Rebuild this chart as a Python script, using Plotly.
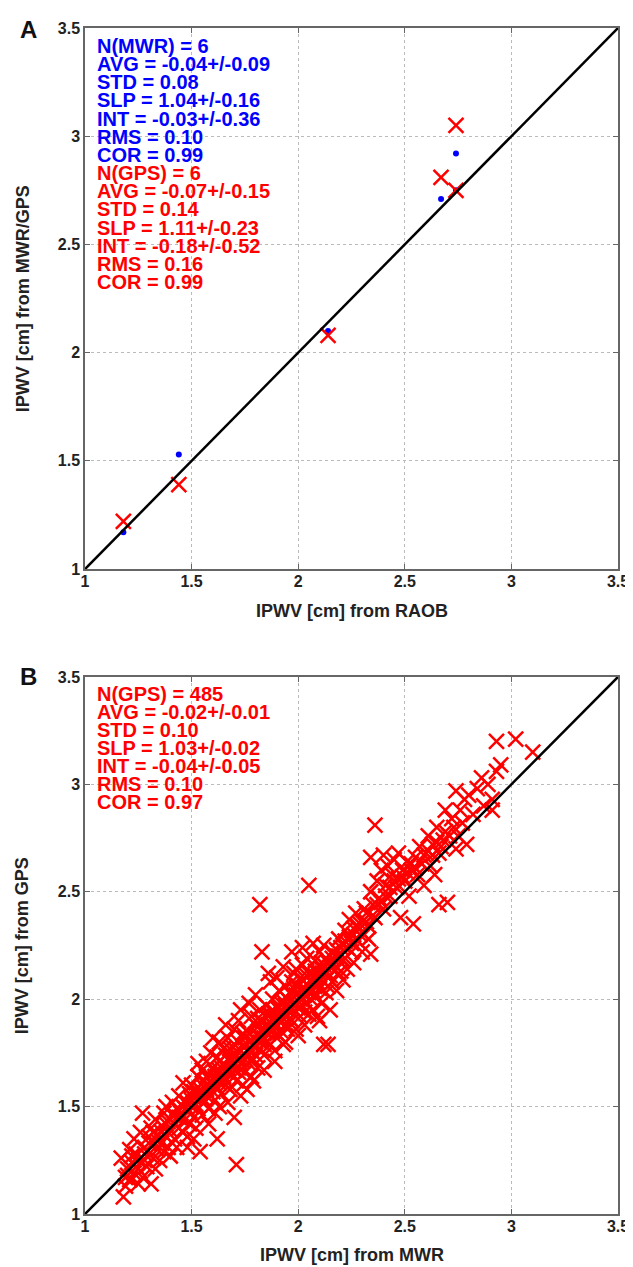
import plotly.graph_objects as go

# ---------------- Panel A data ----------------
raob_a = [1.18, 1.44, 2.14, 2.67, 2.74, 2.74]
mwr_a = [1.17, 1.53, 2.10, 2.71, 2.92, 2.75]
gps_a = [1.22, 1.39, 2.08, 2.81, 3.05, 2.75]

# ---------------- Panel B data ----------------
mwr_b = [
    1.18, 1.19, 1.19, 1.17, 1.20, 1.21, 1.22, 1.23, 1.24, 1.21, 1.25, 1.24, 1.20, 1.23,
    1.26, 1.27, 1.27, 1.28, 1.28, 1.29, 1.30, 1.30, 1.31, 1.31, 1.32, 1.32, 1.33, 1.33, 1.34, 1.34, 1.35, 1.26,
    1.36, 1.36, 1.37, 1.37, 1.38, 1.38, 1.39, 1.39, 1.40, 1.40, 1.41, 1.41, 1.42, 1.42, 1.43, 1.43, 1.44, 1.44, 1.45, 1.46,
    1.46, 1.47, 1.47, 1.48, 1.48, 1.49, 1.49, 1.50, 1.50, 1.51, 1.51, 1.52, 1.52, 1.53, 1.53, 1.54, 1.54, 1.55, 1.55, 1.55, 1.48, 1.51, 1.53, 1.50,
    1.56, 1.56, 1.57, 1.57, 1.58, 1.58, 1.59, 1.59, 1.60, 1.60, 1.61, 1.61, 1.62, 1.62, 1.62, 1.63, 1.63, 1.64, 1.64, 1.65, 1.65, 1.58, 1.61, 1.63, 1.60, 1.57,
    1.66, 1.66, 1.67, 1.67, 1.68, 1.68, 1.69, 1.69, 1.70, 1.70, 1.71, 1.71, 1.71, 1.72, 1.72, 1.73, 1.73, 1.74, 1.74, 1.75, 1.75, 1.67, 1.70, 1.72, 1.74, 1.68, 1.66, 1.73,
    1.76, 1.76, 1.77, 1.77, 1.78, 1.78, 1.78, 1.79, 1.79, 1.80, 1.80, 1.81, 1.81, 1.82, 1.82, 1.82, 1.83, 1.83, 1.84, 1.84, 1.85, 1.85, 1.76, 1.79, 1.83, 1.80, 1.84, 1.77, 1.81, 1.85,
    1.86, 1.86, 1.87, 1.87, 1.88, 1.88, 1.89, 1.89, 1.90, 1.90, 1.91, 1.91, 1.92, 1.92, 1.93, 1.93, 1.94, 1.94, 1.95, 1.95, 1.87, 1.89, 1.92, 1.94, 1.86, 1.90, 1.93, 1.88, 1.91, 1.95,
    1.96, 1.96, 1.97, 1.97, 1.98, 1.98, 1.99, 1.99, 2.00, 2.00, 2.01, 2.01, 2.02, 2.02, 2.03, 2.03, 2.04, 2.04, 2.05, 2.05, 1.97, 2.00, 2.03, 1.98, 2.02, 2.05, 1.96, 2.01, 2.04, 1.99,
    2.06, 2.06, 2.07, 2.07, 2.08, 2.08, 2.09, 2.09, 2.10, 2.10, 2.11, 2.11, 2.12, 2.12, 2.13, 2.13, 2.14, 2.14, 2.15, 2.15, 2.07, 2.10, 2.12, 2.08,
    2.16, 2.16, 2.17, 2.18, 2.18, 2.19, 2.19, 2.20, 2.21, 2.21, 2.22, 2.22, 2.23, 2.24, 2.24, 2.25, 2.26, 2.26, 2.27, 2.28, 2.29, 2.30,
    2.31, 2.31, 2.32, 2.33, 2.34, 2.34, 2.34, 2.35, 2.36, 2.36, 2.37, 2.38, 2.39, 2.40, 2.40, 2.41, 2.42, 2.43, 2.44, 2.45, 2.46, 2.47, 2.48, 2.49,
    2.50, 2.51, 2.52, 2.53, 2.54, 2.55, 2.56, 2.57, 2.58, 2.59, 2.60, 2.61, 2.62, 2.63, 2.64, 2.65, 2.66, 2.66, 2.68, 2.70, 2.72, 2.74,
    2.75, 2.76, 2.77, 2.78, 2.79, 2.80, 2.82, 2.84, 2.86, 2.87, 2.89, 2.91, 2.91, 2.93, 2.95, 2.93, 3.02, 3.10, 2.74, 2.69,
]
gps_b = [
    1.08, 1.13, 1.17, 1.26, 1.21, 1.16, 1.24, 1.19, 1.28, 1.30, 1.14, 1.22, 1.18, 1.35,
    1.20, 1.17, 1.47, 1.25, 1.31, 1.22, 1.28, 1.36, 1.14, 1.40, 1.26, 1.33, 1.21, 1.44, 1.30, 1.37, 1.25, 1.38,
    1.33, 1.41, 1.29, 1.47, 1.36, 1.50, 1.31, 1.43, 1.27, 1.39, 1.46, 1.52, 1.35, 1.42, 1.31, 1.49, 1.40, 1.55, 1.45, 1.61,
    1.38, 1.44, 1.52, 1.36, 1.48, 1.56, 1.42, 1.50, 1.60, 1.45, 1.54, 1.40, 1.58, 1.49, 1.64, 1.29, 1.53, 1.46, 1.57, 1.67, 1.31, 1.35, 1.70, 1.55,
    1.52, 1.62, 1.58, 1.71, 1.49, 1.65, 1.55, 1.75, 1.60, 1.68, 1.53, 1.64, 1.35, 1.59, 1.73, 1.67, 1.80, 1.56, 1.62, 1.70, 1.77, 1.42, 1.47, 1.50, 1.82, 1.64,
    1.62, 1.74, 1.68, 1.82, 1.58, 1.71, 1.65, 1.78, 1.70, 1.86, 1.23, 1.62, 1.74, 1.68, 1.80, 1.55, 1.76, 1.71, 1.84, 1.66, 1.78, 1.52, 1.45, 1.90, 1.60, 1.77, 1.88, 1.95,
    1.73, 1.85, 1.70, 1.80, 1.64, 1.76, 1.92, 1.82, 1.72, 1.78, 1.88, 1.68, 1.84, 2.44, 1.77, 1.95, 1.81, 1.90, 1.74, 1.86, 1.80, 1.97, 1.58, 1.62, 2.22, 2.02, 1.67, 1.98, 1.91, 1.87,
    1.84, 1.93, 1.79, 1.89, 1.85, 2.00, 1.76, 1.92, 1.88, 1.96, 1.83, 2.04, 1.90, 1.98, 1.79, 1.94, 1.88, 2.06, 1.92, 2.00, 2.08, 1.71, 1.85, 1.80, 2.12, 2.10, 2.15, 1.95, 1.96, 1.86,
    1.95, 2.03, 1.90, 2.08, 1.98, 2.12, 1.86, 2.02, 1.96, 2.06, 1.92, 2.10, 2.00, 2.16, 1.88, 2.05, 1.98, 2.11, 2.53, 2.03, 2.22, 1.83, 1.94, 2.05, 2.24, 1.93, 1.99, 2.01, 2.19, 2.14,
    2.00, 2.12, 1.95, 2.07, 2.02, 2.18, 1.92, 2.10, 2.05, 2.22, 1.98, 2.14, 2.08, 1.79, 2.03, 2.19, 1.79, 2.10, 1.95, 2.15, 2.26, 1.90, 2.25, 2.11,
    2.08, 2.22, 2.13, 2.04, 2.20, 2.28, 2.12, 2.17, 2.25, 2.09, 2.32, 2.19, 2.14, 2.28, 2.37, 2.22, 2.33, 2.17, 2.40, 2.27, 2.35, 2.22,
    2.30, 2.42, 2.36, 2.28, 2.50, 2.66, 2.21, 2.44, 2.81, 2.38, 2.55, 2.47, 2.60, 2.67, 2.42, 2.53, 2.62, 2.48, 2.58, 2.65, 2.52, 2.68, 2.38, 2.60,
    2.55, 2.64, 2.48, 2.60, 2.35, 2.66, 2.58, 2.71, 2.63, 2.53, 2.68, 2.76, 2.62, 2.72, 2.58, 2.80, 2.68, 2.44, 2.74, 2.45, 2.84, 2.70,
    2.76, 2.88, 2.82, 2.93, 2.72, 2.95, 2.86, 2.98, 3.03, 2.90, 3.00, 2.88, 2.93, 3.20, 3.09, 3.06, 3.21, 3.15, 2.97, 2.88,
]
# dense core of the cloud (points lying close to the 1:1 line)
mwr_b_core = [
    1.45, 1.47, 1.49, 1.50, 1.52, 1.53, 1.54, 1.55, 1.56, 1.57, 1.58, 1.59, 1.60, 1.61, 1.62, 1.63, 1.64, 1.65,
    1.66, 1.67, 1.68, 1.69, 1.70, 1.71, 1.72, 1.73, 1.74, 1.75, 1.76, 1.77, 1.78, 1.79, 1.80, 1.81, 1.82, 1.83,
    1.84, 1.85, 1.86, 1.87, 1.88, 1.89, 1.90, 1.91, 1.92, 1.93, 1.94, 1.95, 1.96, 1.97, 1.98, 1.99, 2.00, 2.01,
    2.02, 2.03, 2.04, 2.05, 2.06, 2.07, 2.08, 2.09, 2.10, 2.11, 2.12, 2.13, 2.14, 2.15, 2.16, 2.17, 2.18, 2.19,
    2.20, 2.21, 2.22, 2.23, 2.24, 2.25, 2.26, 2.27, 2.28, 2.29, 2.30, 2.32, 2.33, 2.35, 2.37, 2.39, 2.41, 2.43,
    2.45, 2.47, 2.49, 2.51, 2.53, 2.55, 2.57, 2.59, 2.61, 2.63, 2.65, 2.67, 2.69, 2.71, 2.73,
    1.30, 1.32, 1.34, 1.36, 1.38, 1.40, 1.42, 1.44, 1.25, 1.28, 1.22, 1.46, 1.48, 1.51,
    1.63, 1.69, 1.75, 1.81, 1.87, 1.93, 1.99, 2.05, 2.11, 1.66, 1.72, 1.78, 1.84, 1.90, 1.96, 2.02, 2.08, 2.14, 2.20,
]
gps_b_core = [
    1.47, 1.49, 1.48, 1.53, 1.51, 1.56, 1.58, 1.54, 1.59, 1.55, 1.60, 1.62, 1.57, 1.66, 1.63, 1.61, 1.68, 1.64,
    1.69, 1.66, 1.73, 1.70, 1.67, 1.76, 1.72, 1.70, 1.78, 1.74, 1.79, 1.76, 1.81, 1.78, 1.74, 1.83, 1.80, 1.86,
    1.82, 1.85, 1.88, 1.86, 1.90, 1.87, 1.92, 1.90, 1.94, 1.91, 1.97, 1.95, 1.99, 1.96, 2.01, 1.98, 2.03, 2.00,
    2.05, 2.02, 2.07, 2.06, 2.09, 2.04, 2.13, 2.08, 2.12, 2.09, 2.16, 2.12, 2.17, 2.11, 2.19, 2.16, 2.23, 2.20,
    2.24, 2.18, 2.27, 2.24, 2.29, 2.26, 2.30, 2.28, 2.34, 2.30, 2.36, 2.40, 2.34, 2.39, 2.44, 2.45, 2.48, 2.52,
    2.55, 2.56, 2.57, 2.59, 2.63, 2.61, 2.64, 2.67, 2.69, 2.67, 2.73, 2.71, 2.78, 2.76, 2.80,
    1.33, 1.38, 1.34, 1.38, 1.42, 1.44, 1.46, 1.45, 1.25, 1.28, 1.27, 1.50, 1.52, 1.57,
    1.71, 1.74, 1.82, 1.87, 1.93, 1.99, 2.07, 2.12, 2.17, 1.60, 1.66, 1.72, 1.79, 1.84, 1.91, 1.97, 2.01, 2.06, 2.13,
]

one_to_one = [1.0, 3.5]
tick_vals = [1, 1.5, 2, 2.5, 3, 3.5]
tick_text = ["1", "1.5", "2", "2.5", "3", "3.5"]

stats_a_mwr = ["N(MWR) = 6", "AVG = -0.04+/-0.09", "STD = 0.08", "SLP = 1.04+/-0.16",
               "INT = -0.03+/-0.36", "RMS = 0.10", "COR = 0.99"]
stats_a_gps = ["N(GPS) = 6", "AVG = -0.07+/-0.15", "STD = 0.14", "SLP = 1.11+/-0.23",
               "INT = -0.18+/-0.52", "RMS = 0.16", "COR = 0.99"]
stats_b_gps = ["N(GPS) = 485", "AVG = -0.02+/-0.01", "STD = 0.10", "SLP = 1.03+/-0.02",
               "INT = -0.04+/-0.05", "RMS = 0.10", "COR = 0.97"]

# ---------------- Figure ----------------
W, H = 633, 1267
ML, MR, MT, MB = 77, 16, 18, 61
PW = W - ML - MR
PH = H - MT - MB


def px(xp):
    return (xp - ML) / PW


def py(yp):
    return (H - MB - yp) / PH


FONT = "Liberation Sans, Arial, sans-serif"
RED = "#ff0000"
BLUE = "#0000ff"
XMARK = dict(symbol="x-thin", size=15, color=RED, line=dict(color=RED, width=2.5))

fig = go.Figure()

# Panel A
fig.add_trace(go.Scatter(x=raob_a, y=mwr_a, mode="markers", xaxis="x", yaxis="y",
                         marker=dict(symbol="circle", size=6, color=BLUE), showlegend=False))
fig.add_trace(go.Scatter(x=raob_a, y=gps_a, mode="markers", xaxis="x", yaxis="y",
                         marker=XMARK, showlegend=False))
fig.add_trace(go.Scatter(x=one_to_one, y=one_to_one, mode="lines", xaxis="x", yaxis="y",
                         line=dict(color="black", width=2.5), showlegend=False))

# Panel B
fig.add_trace(go.Scatter(x=mwr_b + mwr_b_core, y=gps_b + gps_b_core, mode="markers",
                         xaxis="x2", yaxis="y2", marker=XMARK, showlegend=False))
fig.add_trace(go.Scatter(x=one_to_one, y=one_to_one, mode="lines", xaxis="x2", yaxis="y2",
                         line=dict(color="black", width=2.5), showlegend=False))

axis_common = dict(
    range=[1, 3.5], tickvals=tick_vals, ticktext=tick_text,
    showline=True, linecolor="#666666", linewidth=1.5, mirror="ticks",
    ticks="inside", ticklen=5, tickcolor="#666666",
    showgrid=True, gridcolor="#bbbbbb", griddash="dot", gridwidth=1,
    zeroline=False, tickfont=dict(family=FONT, size=16, color="#222222", weight="bold"),
    fixedrange=True,
)

a_top, a_bot = py(18), py(560)
b_top, b_bot = py(668), py(1206)

fig.update_layout(
    width=W, height=H,
    margin=dict(l=ML, r=MR, t=MT, b=MB),
    paper_bgcolor="white", plot_bgcolor="white",
    xaxis=dict(domain=[0, 1], anchor="y", ticklabelstandoff=-3, **axis_common),
    yaxis=dict(domain=[a_bot, a_top], anchor="x", **axis_common),
    xaxis2=dict(domain=[0, 1], anchor="y2", ticklabelstandoff=-3, **axis_common),
    yaxis2=dict(domain=[b_bot, b_top], anchor="x2", **axis_common),
)

ann = []
STAT_SIZE = 20
lines_a = [(t, BLUE) for t in stats_a_mwr] + [(t, RED) for t in stats_a_gps]
for i, (t, c) in enumerate(lines_a):
    ann.append(dict(x=px(88), y=py(36 + i * 18.2), xref="paper", yref="paper", text=t,
                    showarrow=False, xanchor="left", yanchor="middle", borderpad=0,
                    font=dict(family=FONT, size=STAT_SIZE, color=c, weight="bold")))
for i, t in enumerate(stats_b_gps):
    ann.append(dict(x=px(88), y=py(685 + i * 18.0), xref="paper", yref="paper", text=t,
                    showarrow=False, xanchor="left", yanchor="middle", borderpad=0,
                    font=dict(family=FONT, size=STAT_SIZE, color=RED, weight="bold")))

title_font = dict(family=FONT, size=18, color="#222222", weight="bold")
ann.append(dict(x=px(347), y=py(602), xref="paper", yref="paper", text="IPWV [cm] from RAOB",
                showarrow=False, xanchor="center", yanchor="middle", font=title_font))
ann.append(dict(x=px(347), y=py(1247), xref="paper", yref="paper", text="IPWV [cm] from MWR",
                showarrow=False, xanchor="center", yanchor="middle", font=title_font))
ann.append(dict(x=px(14), y=py(289), xref="paper", yref="paper", text="IPWV [cm] from MWR/GPS",
                showarrow=False, xanchor="center", yanchor="middle", textangle=-90, font=title_font))
ann.append(dict(x=px(14), y=py(937), xref="paper", yref="paper", text="IPWV [cm] from GPS",
                showarrow=False, xanchor="center", yanchor="middle", textangle=-90, font=title_font))
ann.append(dict(x=px(20), y=py(20), xref="paper", yref="paper", text="A",
                showarrow=False, xanchor="center", yanchor="middle",
                font=dict(family=FONT, size=24, color="#111111", weight="bold")))
ann.append(dict(x=px(20), y=py(668), xref="paper", yref="paper", text="B",
                showarrow=False, xanchor="center", yanchor="middle",
                font=dict(family=FONT, size=24, color="#111111", weight="bold")))

fig.update_layout(annotations=ann)

fig.write_html("out.html")
